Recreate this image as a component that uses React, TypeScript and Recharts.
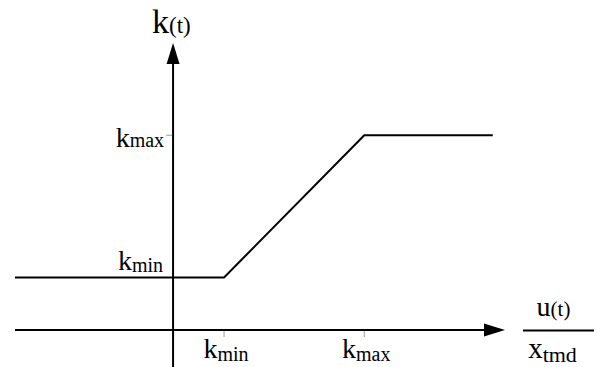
import React from 'react';
import { ComposedChart, Line, XAxis, YAxis, ReferenceLine, ReferenceDot } from 'recharts';

const uValues = [-3.1, 1, 3.75, 6.27];
const kValues = [1, 1, 3.71, 3.71];
const xTickValues = [1, 3.75];
const xTickLabels = [['k', 'min'], ['k', 'max']];
const yTickValues = [1, 3.71];
const yTickLabels = [['k', 'min'], ['k', 'max']];
const yTitle = ['k', '(t)'];
const xTitleTop = ['u', '(t)'];
const xTitleBottom = ['x', 'tmd'];
const xDomain = [-3.1, 6.51];
const yDomain = [-0.705, 5.467];

const data = uValues.map((u, i) => ({ u, k: kValues[i] }));

const FONT = 'Times New Roman';

function ArrowShape(props: any) {
  const { x1, y1, x2, y2 } = props;
  const dx = x2 - x1;
  const dy = y2 - y1;
  const len = Math.sqrt(dx * dx + dy * dy) || 1;
  const ux = dx / len;
  const uy = dy / len;
  const headLen = 21;
  const hw = 6.5;
  const bx = x2 - ux * headLen;
  const by = y2 - uy * headLen;
  const px = -uy;
  const py = ux;
  return (
    <g>
      <line x1={x1} y1={y1} x2={bx + ux * 2} y2={by + uy * 2} stroke="#000" strokeWidth={2} />
      <polygon
        points={`${x2},${y2} ${bx + px * hw},${by + py * hw} ${bx - px * hw},${by - py * hw}`}
        fill="#000"
      />
    </g>
  );
}

function SubText({ x, y, anchor, parts, mainSize, subSize, subDy }: any) {
  return (
    <text x={x} y={y} textAnchor={anchor} fontFamily={FONT} fill="#000">
      <tspan fontFamily={FONT} fontSize={mainSize}>{parts[0]}</tspan>
      <tspan fontFamily={FONT} fontSize={subSize} dy={subDy}>{parts[1]}</tspan>
    </text>
  );
}

function XTick(label: string[]) {
  return (props: any) => {
    const { cx, cy } = props;
    return (
      <g>
        <line x1={cx} y1={cy + 1} x2={cx} y2={cy + 7} stroke="#999" strokeWidth={1} />
        <SubText x={cx + 2} y={cy + 28} anchor="middle" parts={label} mainSize={28} subSize={20} subDy={3} />
      </g>
    );
  };
}

function YTickMin(label: string[]) {
  return (props: any) => {
    const { cx, cy } = props;
    return <SubText x={cx - 10} y={cy - 7} anchor="end" parts={label} mainSize={28} subSize={20} subDy={2} />;
  };
}

function YTickMax(label: string[]) {
  return (props: any) => {
    const { cx, cy } = props;
    return (
      <g>
        <line x1={cx - 7} y1={cy} x2={cx - 1} y2={cy} stroke="#999" strokeWidth={1} />
        <SubText x={cx - 9} y={cy + 12} anchor="end" parts={label} mainSize={28} subSize={20} subDy={0} />
      </g>
    );
  };
}

function YTitle(props: any) {
  const { cx, cy } = props;
  return (
    <text x={cx - 21} y={cy - 10} fontFamily={FONT} fill="#000">
      <tspan fontFamily={FONT} fontSize={34}>{yTitle[0]}</tspan>
      <tspan fontFamily={FONT} fontSize={23}>{yTitle[1]}</tspan>
    </text>
  );
}

function XTitle(props: any) {
  const { cx, cy } = props;
  const left = cx + 18;
  const right = cx + 89;
  const mid = (left + right) / 2;
  return (
    <g>
      <line x1={left} y1={cy + 0.5} x2={right} y2={cy + 0.5} stroke="#000" strokeWidth={2} />
      <text x={mid - 5} y={cy - 14} textAnchor="middle" fontFamily={FONT} fill="#000">
        <tspan fontFamily={FONT} fontSize={28}>{xTitleTop[0]}</tspan>
        <tspan fontFamily={FONT} fontSize={21}>{xTitleTop[1]}</tspan>
      </text>
      <text x={mid - 6} y={cy + 28} textAnchor="middle" fontFamily={FONT} fill="#000">
        <tspan fontFamily={FONT} fontSize={29}>{xTitleBottom[0]}</tspan>
        <tspan fontFamily={FONT} fontSize={22} dy={4}>{xTitleBottom[1]}</tspan>
      </text>
    </g>
  );
}

export default function App() {
  return (
    <div style={{ position: 'absolute', left: 0, top: 0, width: 597, height: 367, background: '#fff', fontFamily: FONT }}>
      <ComposedChart
        width={597}
        height={367}
        data={data}
        margin={{ top: 43, right: 92, bottom: 0, left: 15 }}
      >
        <XAxis type="number" dataKey="u" domain={xDomain} hide allowDataOverflow />
        <YAxis type="number" domain={yDomain} hide allowDataOverflow />
        <ReferenceLine
          segment={[{ x: xDomain[0], y: 0 }, { x: xDomain[1], y: 0 }]}
          ifOverflow="visible"
          shape={ArrowShape}
        />
        <ReferenceLine
          segment={[{ x: 0, y: yDomain[0] }, { x: 0, y: yDomain[1] }]}
          ifOverflow="visible"
          shape={ArrowShape}
        />
        <Line
          type="linear"
          dataKey="k"
          stroke="#000"
          strokeWidth={2}
          dot={false}
          activeDot={false}
          isAnimationActive={false}
        />
        {xTickValues.map((v, i) => (
          <ReferenceDot key={'xt' + i} x={v} y={0} ifOverflow="visible" shape={XTick(xTickLabels[i])} />
        ))}
        <ReferenceDot x={0} y={yTickValues[0]} ifOverflow="visible" shape={YTickMin(yTickLabels[0])} />
        <ReferenceDot x={0} y={yTickValues[1]} ifOverflow="visible" shape={YTickMax(yTickLabels[1])} />
        <ReferenceDot x={0} y={yDomain[1]} ifOverflow="visible" shape={YTitle} />
        <ReferenceDot x={xDomain[1]} y={0} ifOverflow="visible" shape={XTitle} />
      </ComposedChart>
    </div>
  );
}
